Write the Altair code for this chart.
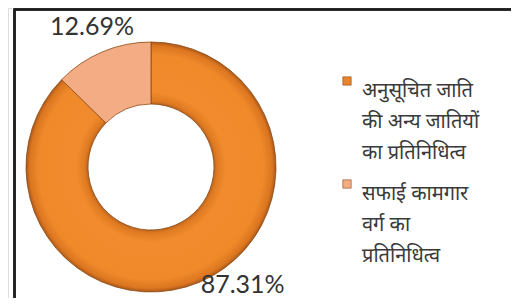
import altair as alt
import pandas as pd

# ---- data ----
categories = [
    "अनुसूचित जाति की अन्य जातियों का प्रतिनिधित्व",
    "सफाई कामगार वर्ग का प्रतिनिधित्व",
]
values = [87.31, 12.69]
value_labels = ["87.31%", "12.69%"]
legend_lines = [
    ["अनुसूचित जाति", "की अन्य जातियों", "का प्रतिनिधित्व"],
    ["सफाई कामगार", "वर्ग का", "प्रतिनिधित्व"],
]
colors = ["#E8842A", "#F3AC83"]

df = pd.DataFrame({
    "cat": categories,
    "value": values,
    "label": value_labels,
    "idx": list(range(len(categories))),
})

# legend label expression built from the legend_lines arrays
expr = "datum.label"
for cat, lines in reversed(list(zip(categories, legend_lines))):
    arr = "[" + ",".join("'" + l + "'" for l in lines) + "]"
    expr = f"datum.label == '{cat}' ? {arr} : ({expr})"

CX, CY = 143, 159
R_OUT, R_IN = 125, 63

base = (
    alt.Chart(df)
    .transform_stack(stack="value", as_=["t0", "t1"], groupby=[], sort=[alt.SortField("idx")])
    .transform_calculate(mid="(datum.t0 + datum.t1) / 2")
)

theta_scale = alt.Scale(domain=[0, 100])
color_enc = alt.Color(
    "cat:N",
    scale=alt.Scale(domain=categories, range=colors),
    legend=alt.Legend(
        title=None,
        orient="none",
        legendX=329,
        legendY=63,
        symbolType="square",
        symbolSize=70,
        symbolStrokeColor="#8B4A14",
        symbolStrokeWidth=0.6,
        labelFont="Noto Sans Devanagari, Noto Sans, sans-serif",
        labelFontSize=20,
        labelColor="#3A3A3A",
        labelLimit=400,
        labelOffset=5,
        labelBaseline="top",
        labelExpr=expr,
        rowPadding=11,
        padding=0,
    ),
)

big_fill = alt.RadialGradient(
    gradient="radial",
    x1=0.5, y1=0.5, r1=0,
    x2=0.5, y2=0.5, r2=0.5,
    stops=[
        alt.GradientStop(offset=0.0, color="#B5621F"),
        alt.GradientStop(offset=0.5, color="#B5621F"),
        alt.GradientStop(offset=0.53, color="#E07A22"),
        alt.GradientStop(offset=0.6, color="#F18B2D"),
        alt.GradientStop(offset=0.9, color="#EF892A"),
        alt.GradientStop(offset=0.97, color="#DC7620"),
        alt.GradientStop(offset=1.0, color="#A9591A"),
    ],
)

arc_big = base.transform_filter(alt.datum.idx == 0).mark_arc(
    outerRadius=R_OUT, innerRadius=R_IN, stroke="#8B4A14", strokeWidth=0.8,
    fill=big_fill,
).encode(
    theta=alt.Theta("t0:Q", scale=theta_scale, stack=None),
    theta2="t1:Q",
    x=alt.value(CX),
    y=alt.value(CY),
)

arc_small = base.transform_filter(alt.datum.idx == 1).mark_arc(
    outerRadius=R_OUT, innerRadius=R_IN, stroke="#8B4A14", strokeWidth=0.8
).encode(
    theta=alt.Theta("t0:Q", scale=theta_scale, stack=None),
    theta2="t1:Q",
    color=color_enc,
    x=alt.value(CX),
    y=alt.value(CY),
)

text_big = base.transform_filter(alt.datum.idx == 0).mark_text(
    align="left", baseline="middle", font="Lato", fontSize=25, color="#333333"
).encode(
    theta=alt.Theta("mid:Q", scale=theta_scale, stack=None),
    radius=alt.value(128),
    text="label:N",
    x=alt.value(CX),
    y=alt.value(CY),
)

text_small = base.transform_filter(alt.datum.idx == 1).mark_text(
    align="center", baseline="middle", font="Lato", fontSize=25, color="#333333"
).encode(
    theta=alt.Theta("mid:Q", scale=theta_scale, stack=None),
    radius=alt.value(152),
    text="label:N",
    x=alt.value(CX),
    y=alt.value(CY),
)

frame_top = alt.Chart(df).mark_rule(color="#1E1E1E", strokeWidth=2.5).encode(
    x=alt.value(6.5), x2=alt.value(503), y=alt.value(1.6)
)
frame_left = alt.Chart(df).mark_rule(color="#1E1E1E", strokeWidth=2.5).encode(
    x=alt.value(6.5), y=alt.value(0.4), y2=alt.value(290)
)

chart = (
    alt.layer(arc_big, arc_small, text_big, text_small, frame_top, frame_left)
    .properties(width=503, height=290, autosize=alt.AutoSizeParams(type="none"), padding=0)
    .configure_view(stroke=None)
    .configure(style={"guide-label": {"lineHeight": 31}})
)

chart.save("out.html", embed_options={"renderer": "svg", "actions": False})
